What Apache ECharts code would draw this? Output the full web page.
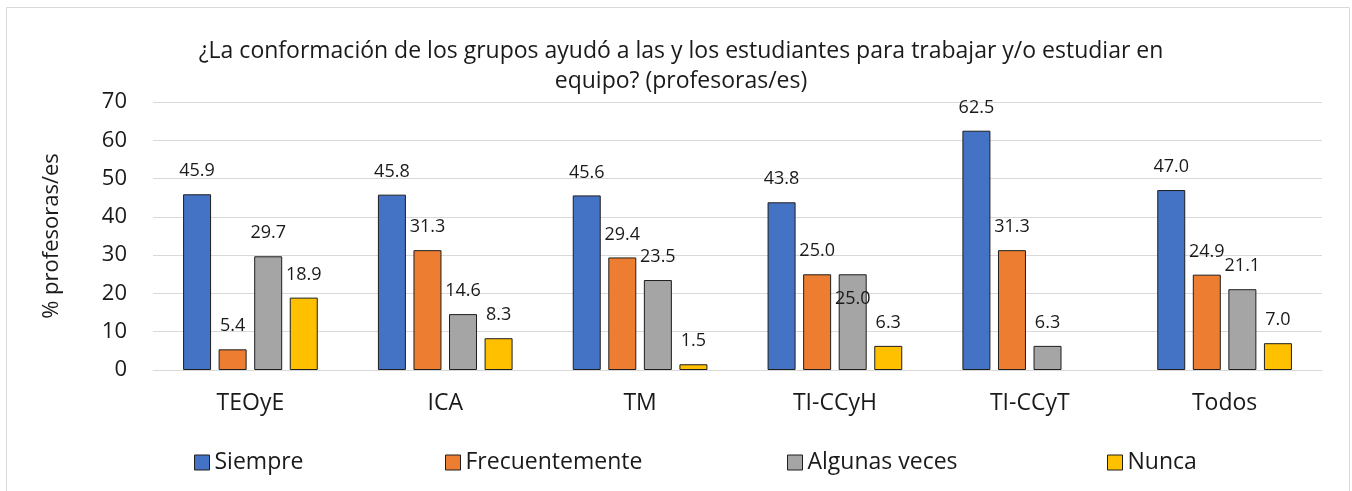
<!DOCTYPE html>
<html>
<head>
<meta charset="utf-8">
<script src="https://cdn.jsdelivr.net/npm/echarts@6/dist/echarts.min.js"></script>
<style>
  html, body { margin: 0; padding: 0; background: #fff; }
  #chart { width: 1352px; height: 491px; }
</style>
</head>
<body>
<div id="chart"></div>
<script>
// categorias (programas)
var categorias = ['TEOyE', 'ICA', 'TM', 'TI-CCyH', 'TI-CCyT', 'Todos'];
var series_names = ['Siempre', 'Frecuentemente', 'Algunas veces', 'Nunca'];
var siempre = [45.9, 45.8, 45.6, 43.8, 62.5, 47.0];
var frecuentemente = [5.4, 31.3, 29.4, 25.0, 31.3, 24.9];
var algunas = [29.7, 14.6, 23.5, 25.0, 6.3, 21.1];
var nunca = [18.9, 8.3, 1.5, 6.3, null, 7.0];
var y_ticks = [0, 10, 20, 30, 40, 50, 60, 70];

var colores = ['#4472C4', '#ED7D31', '#A5A5A5', '#FFC000'];
var fuente = 'Open Sans';

var myChart = echarts.init(document.getElementById('chart'));

function serie(nombre, valores, color, idx) {
  var data = [];
  for (var i = 0; i < valores.length; i++) {
    var item = { value: valores[i] };
    // etiqueta movida a mano en el original (25.0 gris de TI-CCyH)
    if (idx == 2 && i == 3) {
      item.label = { offset: [0, 48] };
    }
    data.push(item);
  }
  return {
    name: nombre,
    type: 'bar',
    barWidth: 28,
    barGap: '27%',
    data: data,
    itemStyle: {
      color: color,
      borderColor: '#1e1e1e',
      borderWidth: 1
    },
    label: {
      show: true,
      position: 'top',
      distance: 14,
      fontFamily: fuente,
      fontSize: 18,
      color: '#1a1a1a',
      formatter: function (p) { return p.value == null ? '' : p.value.toFixed(1); }
    }
  };
}

var legendLeft = [194, 445, 787, 1107];
var legends = [];
for (var i = 0; i < series_names.length; i++) {
  legends.push({
    data: [series_names[i]],
    left: legendLeft[i],
    top: 451,
    itemWidth: 15,
    itemHeight: 15,
    itemGap: 0,
    padding: 0,
    selectedMode: false,
    icon: 'rect',
    itemStyle: { borderColor: '#1e1e1e', borderWidth: 1 },
    textStyle: { fontFamily: fuente, fontSize: 23, color: '#1a1a1a', padding: [0, 0, 0, 0] }
  });
}

var option = {
  animation: false,
  textStyle: { fontFamily: fuente },
  title: {
    text: '¿La conformación de los grupos ayudó a las y los estudiantes para trabajar y/o estudiar en\nequipo? (profesoras/es)',
    left: 676,
    top: 31,
    textAlign: 'center',
    textStyle: {
      fontFamily: fuente,
      fontSize: 23,
      fontWeight: 'normal',
      color: '#1a1a1a',
      lineHeight: 30
    }
  },
  legend: legends,
  graphic: [{
    type: 'rect',
    shape: { x: 6.5, y: 7.5, width: 1343, height: 495 },
    style: { fill: 'none', stroke: '#d9d9d9', lineWidth: 1 },
    silent: true
  }],
  grid: {
    left: 153,
    right: 30,
    top: 102,
    bottom: 121
  },
  xAxis: {
    type: 'category',
    data: categorias,
    axisTick: { show: false },
    axisLine: { lineStyle: { color: '#d9d9d9', width: 1 } },
    axisLabel: {
      fontFamily: fuente,
      fontSize: 23,
      color: '#1a1a1a',
      margin: 22
    }
  },
  yAxis: {
    type: 'value',
    min: y_ticks[0],
    max: y_ticks[y_ticks.length - 1],
    interval: 10,
    name: '% profesoras/es',
    nameLocation: 'middle',
    nameGap: 90,
    nameTextStyle: { fontFamily: fuente, fontSize: 22, color: '#1a1a1a' },
    axisLabel: {
      fontFamily: fuente,
      fontSize: 22,
      color: '#1a1a1a',
      margin: 26
    },
    splitLine: { lineStyle: { color: '#d9d9d9', width: 1 } }
  },
  series: [
    serie(series_names[0], siempre, colores[0], 0),
    serie(series_names[1], frecuentemente, colores[1], 1),
    serie(series_names[2], algunas, colores[2], 2),
    serie(series_names[3], nunca, colores[3], 3)
  ]
};
myChart.setOption(option);
</script>
</body>
</html>
